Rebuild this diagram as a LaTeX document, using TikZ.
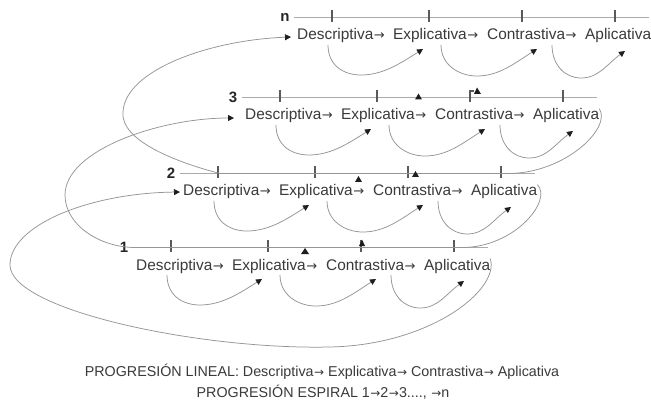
\documentclass[tikz,border=0pt]{standalone}
\usepackage{fontspec}
\setmainfont{Liberation Sans}
\newfontfamily\arrowfont{DejaVu Sans}
\newcommand{\ar}{{\arrowfont\fontsize{13}{15}\selectfont\kern0.5pt→}}
\newcommand{\arc}{{\arrowfont\fontsize{12}{14}\selectfont\kern0.5pt→}}
\usetikzlibrary{arrows.meta,calc}
\definecolor{txt}{HTML}{3A3A3A}
\definecolor{lnc}{HTML}{ABABAB}
\definecolor{cvc}{HTML}{959595}
\definecolor{tkc}{HTML}{5A5A5A}
\definecolor{tipc}{HTML}{1E1E1E}
\begin{document}
\begin{tikzpicture}[x=1pt,y=-1pt,
  word/.style={font=\fontsize{15.4}{18}\selectfont, text=txt, inner sep=0pt, anchor=base west},
  lvl/.style={font=\bfseries\fontsize{15}{18}\selectfont, text=black!85, inner sep=0pt},
  captext/.style={font=\fontsize{14.3}{17}\selectfont, text=txt, inner sep=0pt},
  levelline/.style={draw=lnc, line width=0.8pt},
  tickmark/.style={draw=tkc, line width=1.1pt},
  loopc/.style={draw=cvc, line width=0.75pt, -{Triangle[length=6pt,width=6pt,color=tipc]}},
  stepc/.style={draw=cvc, line width=0.75pt, -{Triangle[length=6pt,width=6pt,color=tipc]}},
  mark3/.style={fill=tipc}
]
\useasboundingbox (0,0) rectangle (651,401);
\fill[white] (0,0) rectangle (651,401);

\foreach \D/\Y/\lab/\i in {297/35/n/4, 245/115/3/3, 183/191/2/2, 136/265/1/1} {
  \node[word] (d\i) at (\D, \Y+5) {Descriptiva\ar};
  \node[word] (e\i) at (\D+96, \Y+5) {Explicativa\ar};
  \node[word] (c\i) at (\D+190, \Y+5) {Contrastiva\ar};
  \node[word] (a\i) at (\D+288, \Y+5) {Aplicativa};
  \node[lvl] (n\i) at (\D-12, \Y-17.5) {\lab};
  \coordinate (ls\i) at (\D-3, \Y-17.5);
  \coordinate (le\i) at (\D+352, \Y-17.5);
  \draw[levelline] (ls\i) -- (le\i);
  \foreach \t in {35,132,225,318} {
    \draw[tickmark] (\D+\t, \Y-25) -- (\D+\t, \Y-13);
  }
  % step arrows under each level
  \coordinate (sa\i) at ($(d\i.base west)+(31,5)$);
  \coordinate (ba\i) at ($(d\i.base west)+(64,35)$);
  \coordinate (ta\i) at ($(e\i.base west)+(30,9)$);
  \coordinate (sb\i) at ($(e\i.base west)+(48,5)$);
  \coordinate (bb\i) at ($(e\i.base west)+(84,36)$);
  \coordinate (tb\i) at ($(c\i.base west)+(50,9)$);
  \coordinate (sc\i) at ($(c\i.base west)+(65,5)$);
  \coordinate (bc\i) at ($(c\i.base west)+(94,38)$);
  \coordinate (tc\i) at ($(a\i.base west)+(40,11)$);
  \draw[stepc] (sa\i) .. controls +(0,20) and +(-18,0) .. (ba\i) .. controls +(22,0) and +(-22,14) .. (ta\i);
  \draw[stepc] (sb\i) .. controls +(0,20) and +(-18,0) .. (bb\i) .. controls +(22,0) and +(-22,14) .. (tb\i);
  \draw[stepc] (sc\i) .. controls +(0,20) and +(-16,0) .. (bc\i) .. controls +(18,0) and +(-18,13) .. (tc\i);
}

% spiral loops
\coordinate (in2) at ($(d2.west)+(-3,0)$);
\coordinate (in3) at ($(d3.west)+(-11,2)$);
\coordinate (in4) at ($(d4.west)+(-6,1)$);
\coordinate (q1) at (330,347);
\coordinate (q2) at (10,265);
\draw[loopc] (a1.north east) .. controls (500,290) and (430,345) .. (q1)
  .. controls (200,350) and (10,310) .. (q2)
  .. controls (10,225) and (90,193) .. (in2);

\coordinate (r1) at (462,247.5);
\coordinate (r2) at (135,247.5);
\coordinate (r3) at (65,195);
\draw[loopc] (a2.north east) .. controls (553,200) and (515,247.5) .. (r1)
  -- (r2) .. controls (100,247.5) and (65,225) .. (r3)
  .. controls (65,150) and (160,118) .. (in3);

\coordinate (p1) at (508,173.5);
\coordinate (p2) at (220,173.5);
\coordinate (p3) at (123,112);
\draw[loopc] (a3.north east) .. controls (612,128) and (565,173.5) .. (p1)
  -- (p2) .. controls (175,162) and (120,140) .. (p3)
  .. controls (125,70) and (210,40) .. (in4);

% small marks on the level lines
\fill[mark3] (301,254) -- (309,254) -- (305,248) -- cycle;
\fill[mark3] (359,246) -- (365,246) -- (362,239.5) -- cycle;
\fill[mark3] (355,182) -- (362,182) -- (358.5,176) -- cycle;
\fill[mark3] (412,177) -- (419,177) -- (415.5,171) -- cycle;
\fill[mark3] (415,99.5) -- (422,99.5) -- (418.5,93.5) -- cycle;
\draw[tickmark] (470,91) -- (474,91);
\fill[mark3] (474,94) -- (481,94) -- (477,87.5) -- cycle;

% captions
\node[captext] (cap1) at (322,372) {PROGRESIÓN LINEAL: Descriptiva\arc\ Explicativa\arc\ Contrastiva\arc\ Aplicativa};
\node[captext] (cap2) at (323,392) {PROGRESIÓN ESPIRAL 1\arc 2\arc 3...., \arc n};
\end{tikzpicture}
\end{document}
